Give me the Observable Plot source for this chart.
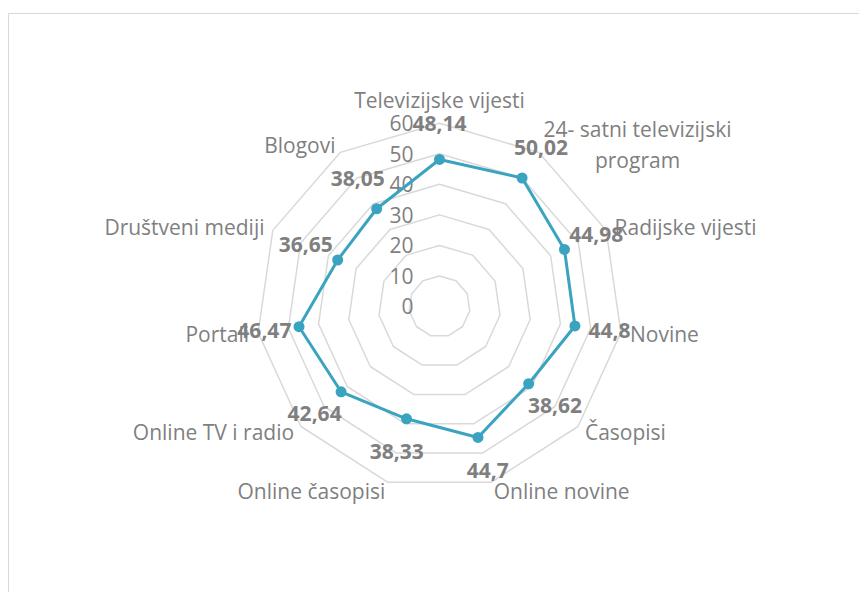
<!DOCTYPE html>
<html>
<head>
<meta charset="utf-8">
<script src="https://cdn.jsdelivr.net/npm/d3@7"></script>
<script src="https://cdn.jsdelivr.net/npm/@observablehq/plot@0.6"></script>
<style>
  html, body { margin: 0; padding: 0; background: #fff; overflow: hidden; }
  #wrap { position: relative; width: 859px; height: 592px; }
  #frame { position: absolute; left: 8px; top: 13px; width: 900px; height: 700px; border: 1px solid #d9d9d9; box-sizing: border-box; }
  #chart { position: absolute; left: 0; top: 0; }
</style>
</head>
<body>
<div id="wrap"><div id="frame"></div><div id="chart"></div></div>
<script>
const categories = [
  "Televizijske vijesti",
  "24- satni televizijski\nprogram",
  "Radijske vijesti",
  "Novine",
  "Časopisi",
  "Online novine",
  "Online časopisi",
  "Online TV i radio",
  "Portali",
  "Društveni mediji",
  "Blogovi"
];
const values = [48.14, 50.02, 44.98, 44.8, 38.62, 44.7, 38.33, 42.64, 46.47, 36.65, 38.05];
const ticks = [0, 10, 20, 30, 40, 50, 60];

const W = 859, H = 592;
const cx = 439, cy = 306;      // centre of the radar, px
const k = 3.054;               // px per unit
const rMax = 60;
const font = '"Open Sans", sans-serif';
const fs = 21;
const grey = "#7f7f7f";
const teal = "#3aa3c0";

const n = categories.length;
const ang = i => i * 2 * Math.PI / n;
const polar = (i, r) => ({x: r * Math.sin(ang(i)), y: r * Math.cos(ang(i))});

// grid rings
const rings = [];
ticks.filter(t => t > 0).forEach(t => {
  for (let i = 0; i <= n; i++) rings.push({ring: t, ...polar(i % n, t)});
});

// series
const series = values.map((v, i) => ({cat: categories[i], v, ...polar(i, v)}));
const seriesClosed = [...series, series[0]];

// data labels: along the axis, a fixed distance beyond the point
const labOff = 35 / k;
const dataLabels = values.map((v, i) => ({
  text: String(v).replace(".", ","),
  ...polar(i, v + labOff)
}));

// category labels: just outside the outer ring, box adjacent to the vertex
const ctx = document.createElement("canvas").getContext("2d");
ctx.font = `${fs}px ${font}`;
const catLabels = categories.map((c, i) => {
  const a = ang(i), s = Math.sin(a);
  const p = polar(i, rMax + 3);
  const lines = c.split("\n");
  const w = Math.max(...lines.map(l => ctx.measureText(l).width));
  if (Math.abs(s) < 0.1) {
    p.y += (fs * 1.35 / 2) / k * Math.sign(Math.cos(a));
  } else {
    p.x += Math.sign(s) * (w / 2) / k;
  }
  return {text: c, ...p};
});

const chart = Plot.plot({
  width: W,
  height: H,
  margin: 0,
  x: {domain: [-cx / k, (W - cx) / k], range: [0, W], axis: null},
  y: {domain: [-(H - cy) / k, cy / k], range: [H, 0], axis: null},
  style: {fontFamily: font, background: "transparent"},
  marks: [
    Plot.line(rings, {x: "x", y: "y", z: "ring", stroke: "#d9d9d9", strokeWidth: 1.5}),
    Plot.text(ticks, {x: 0, y: d => d, text: d => String(d), textAnchor: "end", dx: -26, dy: 1,
      fill: grey, fontSize: fs}),
    Plot.text(catLabels, {x: "x", y: "y", text: "text", textAnchor: "middle", lineAnchor: "middle",
      lineHeight: 1.48, dy: -2, fill: grey, fontSize: fs}),
    Plot.line(seriesClosed, {x: "x", y: "y", stroke: teal, strokeWidth: 3}),
    Plot.dot(series, {x: "x", y: "y", r: 5.5, fill: teal}),
    Plot.text(dataLabels, {x: "x", y: "y", text: "text", fill: grey, fontSize: fs, fontWeight: "bold"})
  ]
});
document.getElementById("chart").appendChild(chart);
</script>
</body>
</html>
